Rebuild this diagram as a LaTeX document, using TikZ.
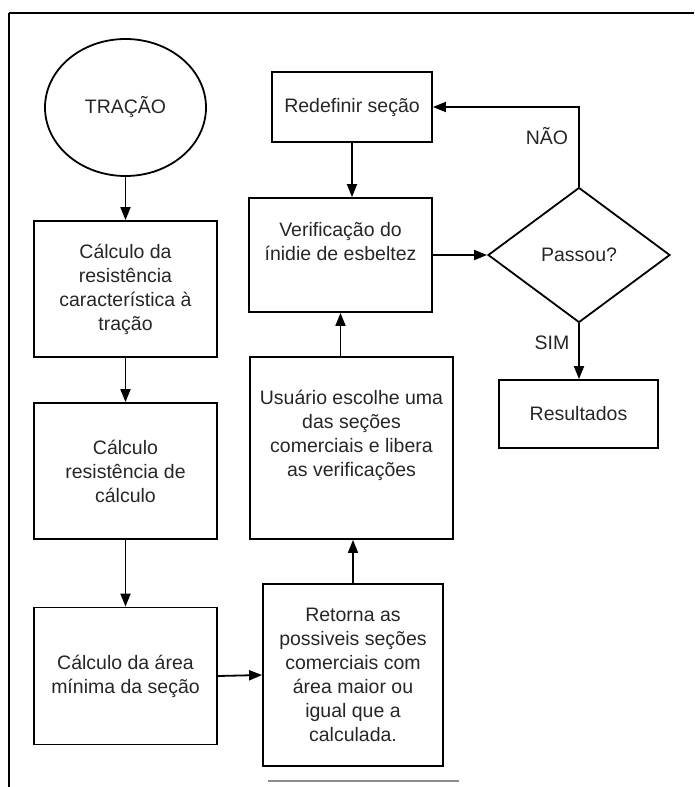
\documentclass[tikz,border=0pt]{standalone}
\usepackage{fontspec}
\setmainfont{Liberation Sans}
\usetikzlibrary{shapes.geometric,arrows.meta}
\begin{document}
\begin{tikzpicture}[x=1pt,y=-1pt,
  every node/.style={font=\fontsize{19.5}{24}\selectfont, text=black!85, inner sep=0pt},
  box/.style={draw, line width=1.8pt, rectangle, align=center},
  conn/.style={line width=1.8pt, -{Triangle[length=13pt,width=10pt]}},
  frameline/.style={line width=1.4pt},
  lbl/.style={}
]
\useasboundingbox (0,0) rectangle (694,787);
\draw[frameline] (9,13) -- (694,13);
\draw[frameline] (9,13) -- (9,787);
\draw[line width=1.4pt, black!45] (268,781) -- (459,781);

\node[ellipse, draw, line width=1.8pt, minimum width=161pt, minimum height=137pt] (trac) at (125.5,107.5) {TRAÇÃO};
\node[box, minimum width=183pt, minimum height=136pt] (b1) at (125.5,289) {Cálculo da\\resistência\\característica à\\tração};
\node[box, minimum width=183pt, minimum height=136pt] (b2) at (125.5,471) {Cálculo\\resistência de\\cálculo};
\node[box, minimum width=183pt, minimum height=137pt] (b3) at (125.5,676) {Cálculo da área\\mínima da seção};
\node[box, minimum width=180pt, minimum height=182pt] (ret) at (353,675) {Retorna as\\possiveis seções\\comerciais com\\área maior ou\\igual que a\\calculada.};
\node[box, minimum width=203pt, minimum height=182pt] (usu) at (351.5,448) {Usuário escolhe uma\\das seções\\comerciais e libera\\as verificações\\[6pt]};
\node[box, minimum width=183pt, minimum height=114pt] (ver) at (340.5,255) {Verificação do\\ínidie de esbeltez\\[4pt]};
\node[box, minimum width=160pt, minimum height=70pt] (red) at (352,107) {Redefinir seção};
\node[diamond, draw, line width=1.8pt, minimum width=182pt, minimum height=135pt, aspect=1.35] (dia) at (579,255) {Passou?};
\node[box, minimum width=159pt, minimum height=68pt] (res) at (578.5,414) {Resultados};

\draw[conn] (trac.south) -- (b1.north);
\draw[conn] (b1.south) -- (b2.north);
\draw[conn] (b2.south) -- (b3.north);
\draw[conn] (b3.east) -- (ret.west);
\draw[conn] (ret.north) -- (ret.north |- usu.south);
\draw[conn] (ver.south |- usu.north) -- (ver.south);
\draw[conn] (red.south) -- (red.south |- ver.north);
\draw[conn] (ver.east) -- (dia.west);
\draw[conn] (dia.north) -- (dia.north |- red.east) -- (red.east);
\draw[conn] (dia.south) -- (dia.south |- res.north);
\node[lbl] (nao) at (547,136) {NÃO};
\node[lbl] (sim) at (552,343) {SIM};
\end{tikzpicture}
\end{document}
